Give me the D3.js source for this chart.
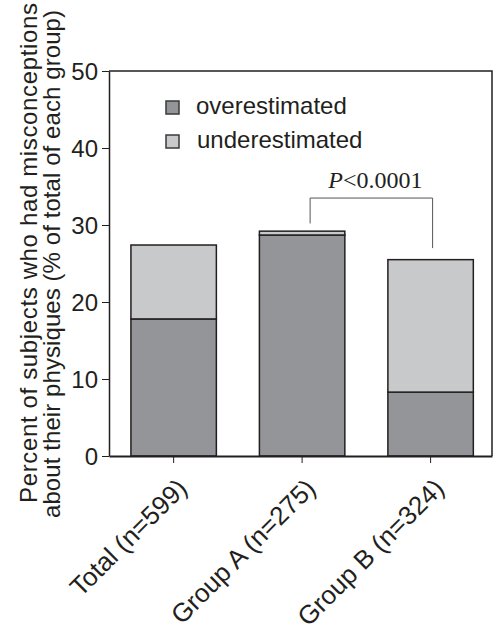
<!DOCTYPE html>
<html>
<head>
<meta charset="utf-8">
<script src="https://cdn.jsdelivr.net/npm/d3@7"></script>
<style>
  body { margin: 0; background: #fff; }
  svg { display: block; }
  text { font-family: "Liberation Sans", Arial, Helvetica, sans-serif; fill: #231f20; }
</style>
</head>
<body>
<svg id="chart" width="494" height="634"></svg>
<script>
// chart data
var groups = ["Total (n=599)", "Group A (n=275)", "Group B (n=324)"];
var overestimated = [17.8, 28.7, 8.3];
var underestimated = [9.6, 0.5, 17.2];
var seriesNames = ["overestimated", "underestimated"];
var yTicks = [0, 10, 20, 30, 40, 50];
var yTitle = ["Percent of subjects who had misconceptions",
              "about their physiques (% of total of each group)"];
var pLabel = "<0.0001";
// bracket between Group A and Group B, in data units
var bracketLevels = [30.2, 33.5, 27.0];

var colors = ["#939598", "#c8c9cb"];
var ink = "#231f20";

var svg = d3.select("#chart");
var plot = { left: 109, right: 492, top: 71, bottom: 456 };

var x = d3.scaleBand().domain(groups).range([plot.left, plot.right])
    .paddingInner(0.335).paddingOuter(0.158).align(0.54);
var y = d3.scaleLinear().domain([0, 50]).range([plot.bottom, plot.top]);

// stack the two series
var rows = groups.map(function(g, i) {
    return { group: g, overestimated: overestimated[i], underestimated: underestimated[i] };
});
var stacked = d3.stack().keys(seriesNames)(rows);

// frame top and right
svg.append("path")
    .attr("d", "M" + plot.left + "," + plot.top + "H" + plot.right + "V" + plot.bottom)
    .attr("fill", "none").attr("stroke", ink).attr("stroke-width", 1.5);

// bars
svg.selectAll(".layer")
    .data(stacked)
    .enter().append("g")
    .attr("class", "layer")
    .attr("fill", function(d, i) { return colors[i]; })
    .selectAll("rect")
    .data(function(d) { return d; })
    .enter().append("rect")
    .attr("x", function(d) { return x(d.data.group); })
    .attr("y", function(d) { return y(d[1]); })
    .attr("width", x.bandwidth())
    .attr("height", function(d) { return y(d[0]) - y(d[1]); })
    .attr("stroke", ink)
    .attr("stroke-width", 1.5);

// y axis
var yAxis = svg.append("g")
    .attr("transform", "translate(" + plot.left + ",0)")
    .call(d3.axisLeft(y).tickValues(yTicks).tickSize(7).tickPadding(4).tickSizeOuter(0));
yAxis.select(".domain").attr("stroke", ink).attr("stroke-width", 1.5);
yAxis.selectAll(".tick line").attr("stroke", ink).attr("stroke-width", 1);
yAxis.selectAll(".tick text")
    .attr("font-size", 24).attr("font-family", "Liberation Sans, Arial, sans-serif")
    .attr("fill", ink).attr("dy", "0.36em");

// x axis
var xAxis = svg.append("g")
    .attr("transform", "translate(0," + plot.bottom + ")")
    .call(d3.axisBottom(x).tickSize(7).tickSizeOuter(0).tickFormat(""));
xAxis.select(".domain").attr("stroke", ink).attr("stroke-width", 2.2);
xAxis.selectAll(".tick line").attr("stroke", ink).attr("stroke-width", 1);

svg.append("g").selectAll("text")
    .data(groups)
    .enter().append("text")
    .attr("transform", function(d) {
        return "translate(" + (x(d) + x.bandwidth() / 2 + 15) + "," + (plot.bottom + 34) + ") rotate(-45)";
    })
    .attr("text-anchor", "end")
    .attr("font-size", 26)
    .text(function(d) { return d; });

// y title, two lines
var title = svg.append("text")
    .attr("transform", "rotate(-90)")
    .attr("font-size", 24);
title.append("tspan").attr("x", -503).attr("y", 37)
    .attr("textLength", 500).attr("lengthAdjust", "spacing").text(yTitle[0]);
title.append("tspan").attr("x", -518).attr("y", 60)
    .attr("textLength", 508).attr("lengthAdjust", "spacing").text(yTitle[1]);

// legend
var legend = svg.append("g").selectAll("g")
    .data(seriesNames)
    .enter().append("g")
    .attr("transform", function(d, i) { return "translate(166," + (101 + i * 34) + ")"; });
legend.append("rect")
    .attr("width", 13).attr("height", 13)
    .attr("fill", function(d, i) { return colors[i]; })
    .attr("stroke", "#3a3a3a").attr("stroke-width", 1.5);
legend.append("text")
    .attr("x", function(d, i) { return i === 0 ? 30 : 31; })
    .attr("y", 13)
    .attr("font-size", 24)
    .text(function(d) { return d; });

// significance bracket
var bx1 = x(groups[1]) + x.bandwidth() / 2 + 8;
var bx2 = x(groups[2]) + x.bandwidth() / 2 + 2;
svg.append("path")
    .attr("d", "M" + bx1 + "," + y(bracketLevels[0]) + "V" + y(bracketLevels[1]) +
        "H" + bx2 + "V" + y(bracketLevels[2]))
    .attr("fill", "none").attr("stroke", "#555").attr("stroke-width", 1);

var pText = svg.append("text")
    .attr("x", (bx1 + bx2) / 2 + 4)
    .attr("y", 188)
    .attr("text-anchor", "middle")
    .attr("font-size", 24)
    .style("font-family", "'Liberation Serif', 'Times New Roman', serif");
pText.append("tspan").attr("font-style", "italic").text("P");
pText.append("tspan").text(pLabel);
</script>
</body>
</html>
